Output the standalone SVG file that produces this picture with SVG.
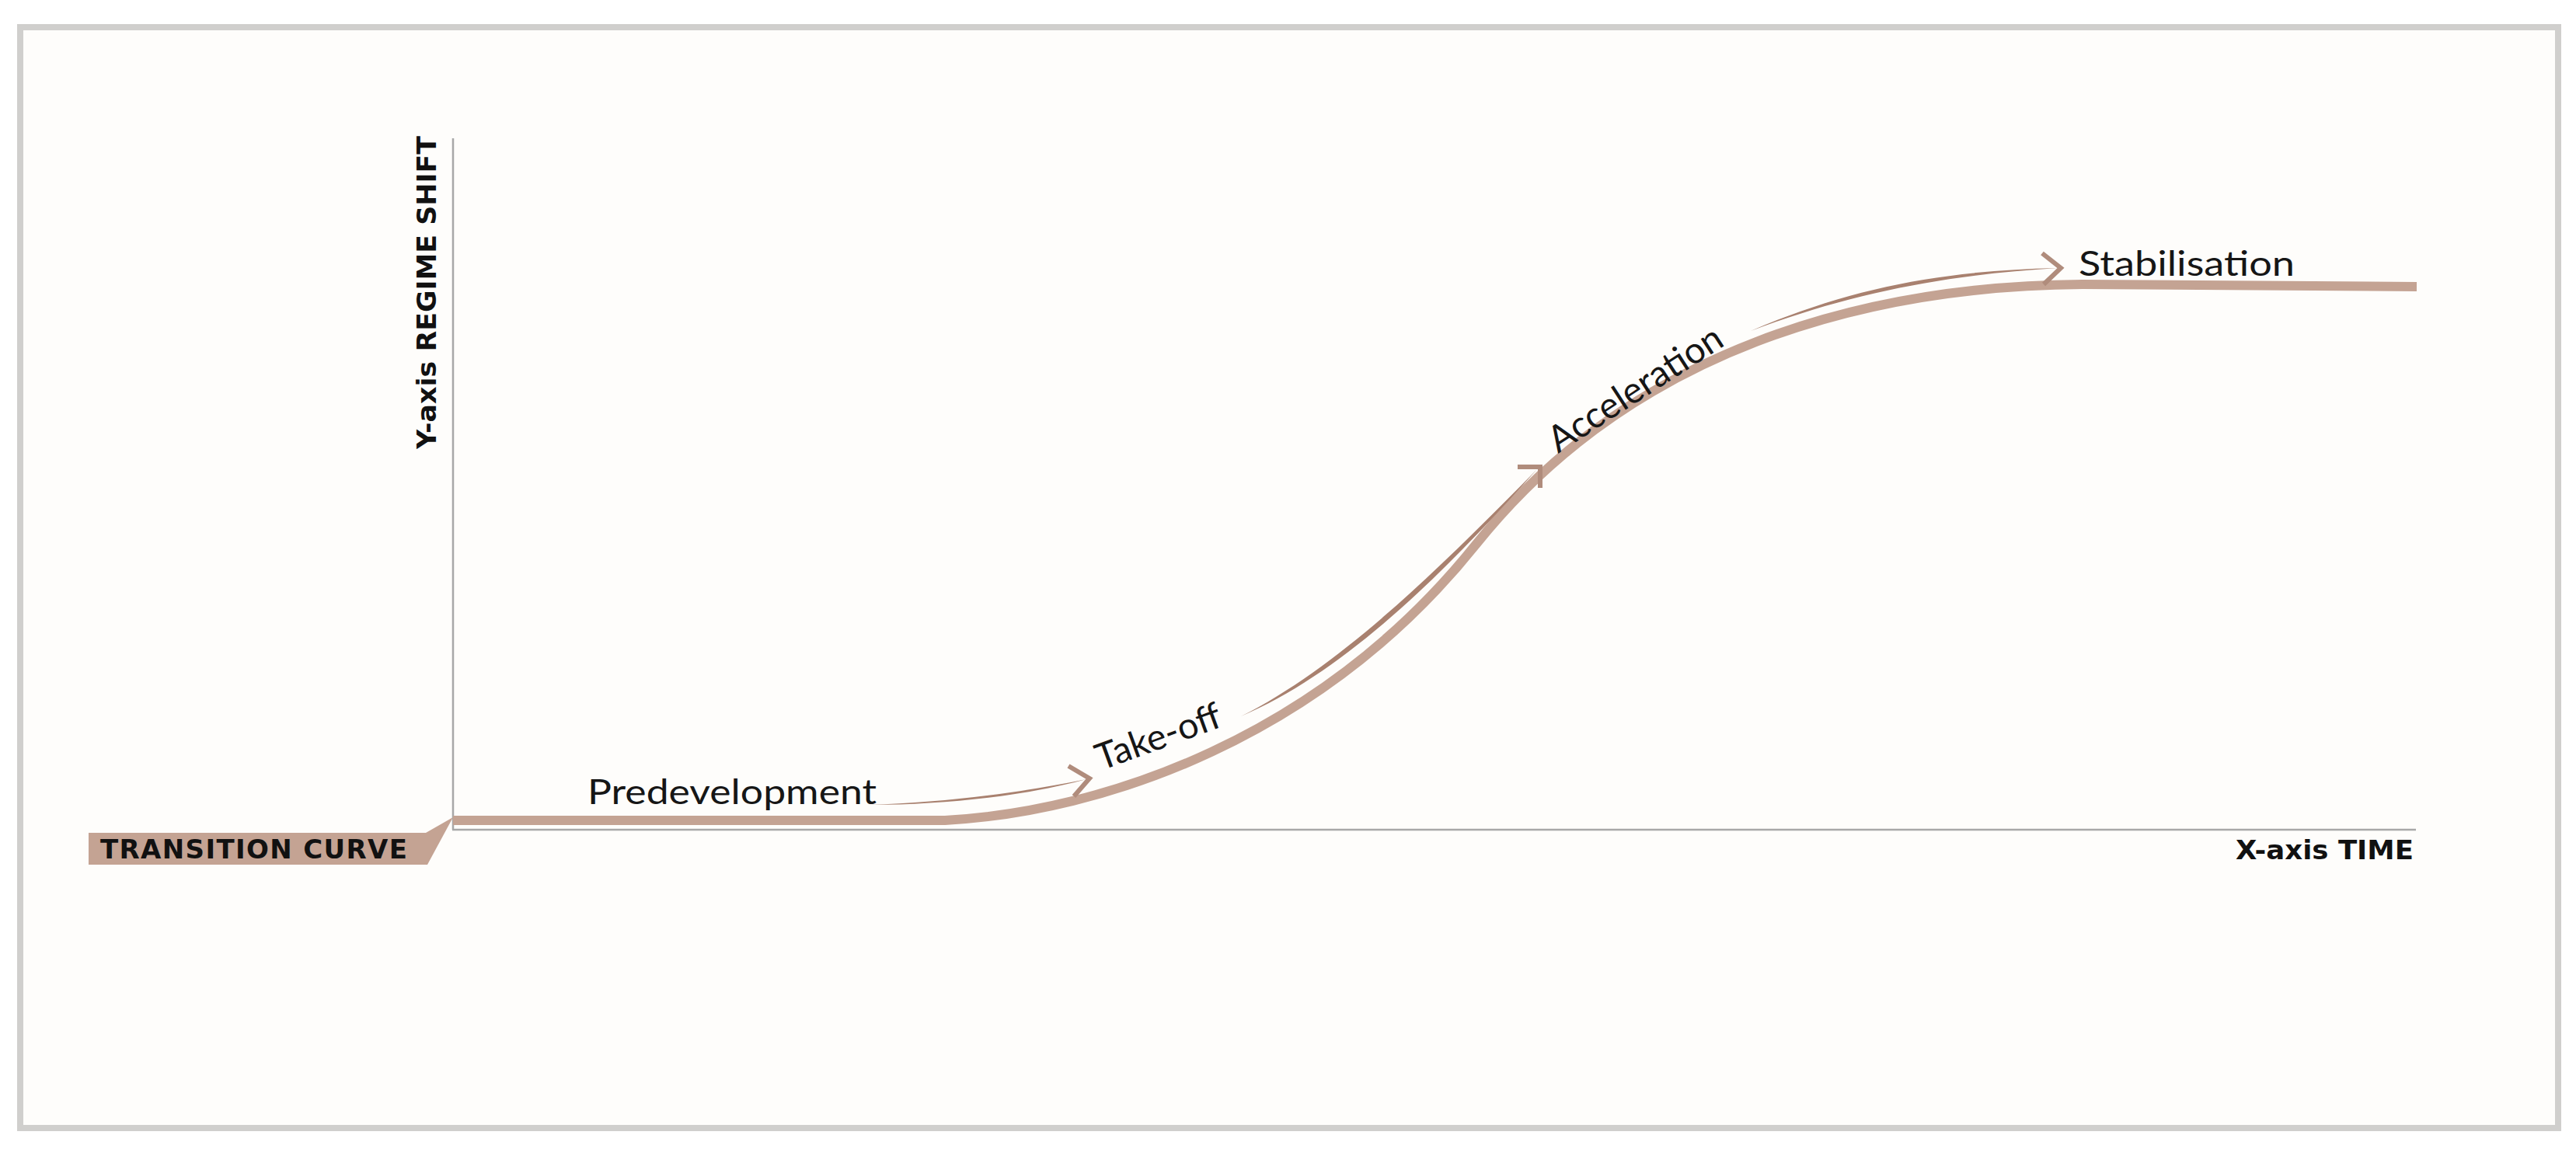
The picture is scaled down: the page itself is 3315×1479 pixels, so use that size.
<svg xmlns="http://www.w3.org/2000/svg" width="3315" height="1479" viewBox="0 0 3315 1479">
<style>
.axis{stroke:#a8a8a8;stroke-width:2.5;fill:none}
.curve{stroke:#c4a393;stroke-width:12;fill:none;stroke-linecap:butt}
.taper{fill:#a9816f;stroke:none}
.head{stroke:#b08c7c;stroke-width:6;fill:none;stroke-linecap:butt;stroke-linejoin:miter}
.phase{font-family:Lato,"Open Sans","Liberation Sans",sans-serif;font-size:44px;fill:#161616}
.big{font-size:47px}
.bold{font-family:"DejaVu Sans","Liberation Sans",sans-serif;font-weight:bold;font-size:34px;fill:#111}
</style>
<rect x="0" y="0" width="3315" height="1479" fill="#ffffff"/>
<rect x="26" y="35" width="3266" height="1417" fill="#fefdfb" stroke="#d0cfcd" stroke-width="8"/>
<g id="axes">
<line class="axis" x1="583" y1="178" x2="583" y2="1068"/>
<line class="axis" x1="582" y1="1068" x2="3109" y2="1068"/>
<text class="bold" transform="translate(561,578) rotate(-90)" x="0" y="0" textLength="403" lengthAdjust="spacingAndGlyphs">Y-axis REGIME SHIFT</text>
<text class="bold" x="2877" y="1106" textLength="229" lengthAdjust="spacingAndGlyphs">X-axis TIME</text>
</g>
<g id="label-transition-curve">
<polygon points="114,1072 548,1072 583,1052 550,1113 114,1113" fill="#c4a393"/>
<text class="bold" x="129" y="1105" textLength="395" lengthAdjust="spacing">TRANSITION CURVE</text>
</g>
<g id="connectors">
<path id="transition-curve" class="curve" d="M583 1056 L1216 1056 C1420 1045 1700 950 1900 700 C2100 450 2400 368 2680 366 L3110 369"/>
<g id="arrow-predevelopment">
<path class="taper" d="M1118 1036 C1220 1033 1320 1019 1398 1003 C1320 1024 1220 1036 1118 1036 Z"/>
<polyline class="head" points="1375,986 1402,1002 1382,1025"/>
</g>
<g id="arrow-takeoff">
<path class="taper" d="M1597 922 C1727 857 1858 726 1978 604 C1862 734 1733 864 1597 922 Z"/>
<polyline class="head" points="1953,601 1982,601 1982,628"/>
</g>
<g id="arrow-acceleration">
<path class="taper" d="M2253 426 C2380 371 2500 348 2648 345 C2500 354 2380 378 2253 426 Z"/>
<polyline class="head" points="2628,326 2652,345 2630,366"/>
</g>
</g>
<g id="node-predevelopment"><text class="phase" x="756" y="1035" textLength="372" lengthAdjust="spacingAndGlyphs">Predevelopment</text></g>
<g id="node-takeoff"><text class="phase big" transform="translate(1417,992) rotate(-20)">Take-off</text></g>
<g id="node-acceleration"><text class="phase big" transform="translate(2005,584) rotate(-33)">Acceleration</text></g>
<g id="node-stabilisation"><text class="phase" x="2675" y="355" textLength="278" lengthAdjust="spacingAndGlyphs">Stabilisation</text></g>
</svg>
